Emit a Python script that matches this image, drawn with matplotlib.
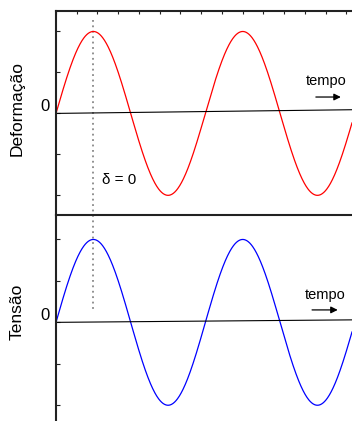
import numpy as np
import matplotlib.pyplot as plt

plt.rcParams["font.family"] = ["Liberation Sans", "DejaVu Sans"]

# curve parameters (same phase for strain and stress: delta = 0)
amplitude = 1.0
period = 2 * np.pi
delta = 0.0
t_max = 12.45
ylabels = ["Deformação", "Tensão"]
colors = ["red", "blue"]
zero_tilt = [0.045, 0.03]
ylims = [(-1.24, 1.25), (-1.19, 1.295)]
yticks = [-1.0, -0.5, 0.0, 0.5, 1.0]

t = np.linspace(0, t_max, 800)
strain = amplitude * np.sin(2 * np.pi * t / period)
stress = amplitude * np.sin(2 * np.pi * t / period + delta)
curves = [strain, stress]

fig = plt.figure(figsize=(3.52, 4.21), dpi=100)
ax_top = fig.add_axes([56 / 352, 206 / 421, 1 - 56 / 352, 204 / 421])
ax_bot = fig.add_axes([56 / 352, 0.0, 1 - 56 / 352, 206 / 421])
ax_bot.patch.set_visible(False)
axes = [ax_top, ax_bot]

for i, ax in enumerate(axes):
    ax.plot(t, curves[i], color=colors[i], lw=0.9)
    ax.plot([0, t_max], [0, zero_tilt[i]], color="black", lw=0.8)
    ax.set_xlim(0, t_max)
    ax.set_ylim(*ylims[i])
    for s in ["right", "bottom"]:
        ax.spines[s].set_visible(False)
    for s in ["left", "top"]:
        ax.spines[s].set_linewidth(1.5)
        ax.spines[s].set_color("#222222")
    ax.set_yticks(yticks)
    ax.set_yticklabels([])
    ax.tick_params(axis="y", direction="in", length=3, width=0.8, color="#222222")
    ax.set_xticks([])
    ax.text(-0.27, 0.08, "0", fontsize=12, ha="right", va="center")
    ax.set_ylabel(ylabels[i], fontsize=12.5)

# top spine ticks of the upper panel
ax_top.xaxis.tick_top()
ax_top.set_xticks(np.arange(0, t_max, period / 7.2))
ax_top.set_xticklabels([])
ax_top.tick_params(axis="x", direction="in", length=2, width=0.8, color="#222222")
ax_top.yaxis.set_label_coords(-31 / 296, 0.52)
ax_bot.yaxis.set_label_coords(-31 / 296, 0.53)

arrow = dict(arrowstyle="-|>", color="black", lw=0.9, mutation_scale=10,
             shrinkA=0, shrinkB=0)

# time arrows
ax_top.text(11.37, 0.40, "tempo", fontsize=10.5, ha="center", va="center")
ax_top.annotate("", xy=(11.98, 0.20), xytext=(10.93, 0.20), arrowprops=arrow)
ax_bot.text(11.31, 0.33, "tempo", fontsize=10.5, ha="center", va="center")
ax_bot.annotate("", xy=(11.85, 0.15), xytext=(10.77, 0.15), arrowprops=arrow)

# phase marker at the first peak
ax_top.plot([period / 4, period / 4], [1.14, -2.43], color="#888888",
            ls=(0, (1, 2)), lw=1.3, clip_on=False, zorder=0)
ax_top.text(1.93, -0.81, "δ = 0", fontsize=11, ha="left", va="center")

fig.savefig("out.png", dpi=100)
